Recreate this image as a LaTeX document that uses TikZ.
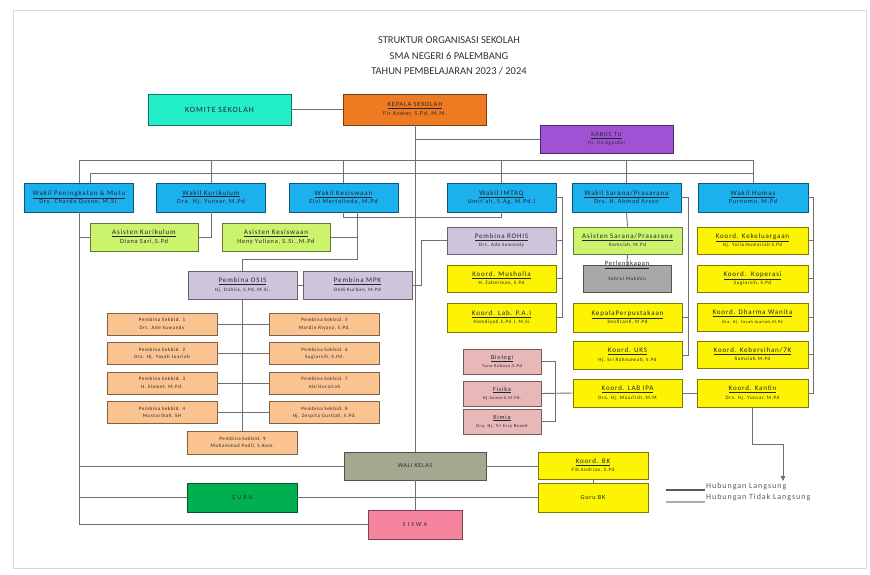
\documentclass[tikz,border=0pt]{standalone}
\usepackage{fontspec}
\setmainfont{Carlito}
\newfontfamily\boxf[LetterSpace=12]{Carlito}
\usetikzlibrary{arrows.meta}
\definecolor{ink}{HTML}{26262F}
\definecolor{cKom}{HTML}{22EEC8}
\definecolor{cKep}{HTML}{EE7B22}
\definecolor{cTU}{HTML}{A052D4}
\definecolor{cWak}{HTML}{1BB0EE}
\definecolor{cAsi}{HTML}{CBF36B}
\definecolor{cLav}{HTML}{CEC5DC}
\definecolor{cYel}{HTML}{FCF400}
\definecolor{cGry}{HTML}{A8A8A8}
\definecolor{cSek}{HTML}{FAC38F}
\definecolor{cPnk}{HTML}{E8B8B8}
\definecolor{cWal}{HTML}{A5A78F}
\definecolor{cGur}{HTML}{00B050}
\definecolor{cSis}{HTML}{F5849E}
\definecolor{cLine}{HTML}{707070}
\newcommand\tbx[2][7]{{\fontsize{#1}{#1}\selectfont\underline{#2}}}
\newcommand\sbx[2][5]{{\fontsize{#1}{#1}\selectfont #2}}
\begin{document}
\begin{tikzpicture}[x=1pt,y=-1pt,
  box/.style={draw=#1!50!black, fill=#1, line width=0.9pt, inner sep=0pt, align=center, text=ink, font=\boxf\fontsize{6}{8.5}\selectfont},
  sz/.style 2 args={minimum width=#1pt, minimum height=#2pt},
  sek/.style={box=cSek, sz={110}{22}, font=\boxf\fontsize{5}{7.5}\selectfont},
  ln/.style={draw=cLine, line width=0.9pt},
  ttl/.style={font=\fontsize{10.5}{12}\selectfont, text=black!80, inner sep=0pt}]
\fill[white] (0,0) rectangle (870,574);
\useasboundingbox (0,0) rectangle (870,574);
\draw[black!15] (13,10) rectangle (866,568);
% title
\node[ttl] (t1) at (449,40) {STRUKTUR ORGANISASI SEKOLAH};
\node[ttl] (t2) at (449,55.5) {SMA NEGERI 6 PALEMBANG};
\node[ttl] (t3) at (449,71) {TAHUN PEMBELAJARAN 2023 / 2024};
% top
\node[box=cKom, sz={143}{31}] (kom) at (219.5,109.5) {\sbx[8]{KOMITE SEKOLAH}};
\node[box=cKep, sz={143}{31}] (kep) at (415,109.5) {\tbx[6.5]{KEPALA SEKOLAH}\\\sbx[6]{Fir Azwar, S.Pd, M.M.}};
\node[box=cTU, sz={133}{28}] (tu) at (606.5,139) {\tbx[6.3]{KABUS TU}\\\sbx{Hj. Ita Agustini}};
% wakil
\node[box=cWak, sz={109}{29}] (wpm) at (79,197.5) {\tbx{Wakil Peningkatan \& Mutu}\\\sbx[6.3]{Drs. Charda Qusno, M.Si.}};
\node[box=cWak, sz={109}{29}] (wkur) at (211,197.5) {\tbx{Wakil Kurikulum}\\\sbx[6.3]{Dra. Hj. Yunsar, M.Pd}};
\node[box=cWak, sz={109}{29}] (wkes) at (343.5,197.5) {\tbx{Wakil Kesiswaan}\\\sbx[6.3]{Elvi Martalinda, M.Pd}};
\node[box=cWak, sz={109}{29}] (wimt) at (501.5,197.5) {\tbx{Wakil IMTAQ}\\\sbx[6.3]{Umit'ah, S.Ag, M.Pd.I}};
\node[box=cWak, sz={109}{29}] (wsar) at (626.5,197.5) {\tbx{Wakil Sarana/Prasarana}\\\sbx[6.3]{Drs. H. Ahmad Arsyo}};
\node[box=cWak, sz={110}{29}] (whum) at (753,197.5) {\tbx{Wakil Humas}\\\sbx[6.3]{Purnomo, M.Pd}};
% asisten
\node[box=cAsi, sz={108}{28}] (akur) at (144,237) {\tbx{Asisten Kurikulum}\\\sbx[6.3]{Diana Sari,S.Pd}};
\node[box=cAsi, sz={108}{28}] (akes) at (276,237) {\tbx{Asisten Kesiswaan}\\\sbx[6.3]{Heny Yuliana, S.Si.,M.Pd}};
% pembina
\node[box=cLav, sz={109}{28}] (osis) at (242.5,285) {\tbx{Pembina OSIS}\\\sbx{Hj. Dahlia, S.Pd, M.Si.}};
\node[box=cLav, sz={109}{28}] (mpk) at (357.5,285) {\tbx{Pembina MPK}\\\sbx{Dedi Kurban, M.Pd}};
% sekbid
\node[sek] (s1) at (162,324) {Pembina Sekbid. 1\\Drs. Ade Suwandy};
\node[sek] (s2) at (162,353.5) {Pembina Sekbid. 2\\Dra. Hj. Yayah Juariah};
\node[sek] (s3) at (162,383) {Pembina Sekbid. 3\\H. Slamet, M.Pd.};
\node[sek] (s4) at (162,412.5) {Pembina Sekbid. 4\\Mustarihah, SH};
\node[sek] (s5) at (324.5,324) {Pembina Sekbid. 5\\Mardin Riyaya, S.Pd.};
\node[sek] (s6) at (324.5,353.5) {Pembina Sekbid. 6\\Sugiarsih, S.Pd.};
\node[sek] (s7) at (324.5,383) {Pembina Sekbid. 7\\Abi Hurairah};
\node[sek] (s8) at (324.5,412.5) {Pembina Sekbid. 8\\Hj. Zespita Gustiati, S.Pd.};
\node[sek, sz={110}{23}] (s9) at (242.5,442.5) {Pembina Sekbid. 9\\Muhammad Padil, S.Kom.};
% imtaq column
\node[box=cLav, sz={109}{27}] (rohis) at (501.5,240.5) {\tbx{Pembina ROHIS}\\\sbx{Drs. Ade Suwandy}};
\node[box=cYel, sz={109}{27}] (mush) at (501.5,278.5) {\tbx{Koord. Musholla}\\\sbx{H. Zaherman, S.Pd}};
\node[box=cYel, sz={109}{29}] (lpai) at (501.5,317.5) {\tbx{Koord. Lab. P.A.I}\\\sbx{Hamdiyati,S.Pd.I, M.Si}};
% sarana column
\node[box=cAsi, sz={109}{27}] (asar) at (627.5,240.5) {\tbx{Asisten Sarana/Prasarana}\\\sbx{Ramsiah, M.Pd}};
\node[box=cGry, sz={88}{27}] (perl) at (627,278.5) {\sbx{Sahrul Mukmin}};
\node[inner sep=0pt, text=ink, font=\boxf] (perlt) at (627,264.5) {\tbx[6.5]{Perlengkapan}};
\node[box=cYel, sz={109}{29}] (kperp) at (627.5,317.5) {\tbx{KepalaPerpustakaan}\\\sbx{Desfiranti, M.Pd}};
\node[box=cYel, sz={109}{28}] (uks) at (627.5,355) {\tbx{Koord. UKS}\\\sbx{Hj. Sri Rahmawati, S.Pd}};
\node[box=cYel, sz={109}{28}] (lipa) at (627.5,393) {\tbx{Koord. LAB IPA}\\\sbx{Dra. Hj. Maurlish, M.M}};
% humas column
\node[box=cYel, sz={111}{27}] (kkel) at (752.5,240.5) {\tbx{Koord. Kekeluargaan}\\\sbx{Hj. Yulia Humairah S.Pd}};
\node[box=cYel, sz={111}{27}] (kkop) at (752.5,278.5) {\tbx{Koord.~~Koperasi}\\\sbx{Sugiarsih, S.Pd}};
\node[box=cYel, sz={111}{28}] (kdw) at (752.5,317) {\tbx{Koord. Dharma Wanita}\\\sbx[4.3]{Dra. Hj. Yayah Juariah,M.Pd}};
\node[box=cYel, sz={111}{27}] (kkeb) at (752.5,354.5) {\tbx{Koord. Kebersihan/7K}\\\sbx{Ramsiah,M.Pd}};
\node[box=cYel, sz={111}{28}] (kkan) at (752.5,393) {\tbx{Koord. Kantin}\\\sbx{Dra. Hj. Yunsar, M.Pd}};
% lab ipa
\node[box=cPnk, sz={78}{25}] (bio) at (502,361.5) {\tbx[6.3]{Biologi}\\\sbx[4.5]{Yanu Rahayu,S.Pd}};
\node[box=cPnk, sz={78}{25}] (fis) at (502,393.5) {\tbx[6.3]{Fisika}\\\sbx[4.5]{Hj.Suwarti,M.Pd.}};
\node[box=cPnk, sz={78}{25}] (kim) at (502,421.5) {\tbx[6.3]{Kimia}\\\sbx[4.5]{Dra. Hj. Tri Essy Reanti}};
% bottom
\node[box=cWal, sz={142}{28}] (wali) at (415,466) {\sbx[6]{WALI KELAS}};
\node[box=cYel, sz={110}{27}] (kbk) at (593,465.5) {\tbx{Koord. BK}\\\sbx{Fib Andrian, S.Pd}};
\node[box=cYel, sz={110}{29}] (gbk) at (593,497.5) {\sbx[6.3]{Guru BK}};
\node[box=cGur, sz={110}{29}] (guru) at (242,497.5) {\sbx[6]{G U R U}};
\node[box=cSis, sz={94}{29}] (siswa) at (415,524.5) {\sbx[6]{S I S W A}};
% connectors
\draw[ln] (kom) -- (kep);
\draw[ln] (kep.south) -- (wali.north);
\draw[ln] (kep.south |- tu.west) -- (tu.west);
\coordinate (busL) at (79,160);
\coordinate (busR) at (753,160);
\draw[ln] (wpm.north) -- (busL) -- (busR) -- (whum.north);
\foreach \n in {wkur,wkes,wimt,wsar} \draw[ln] (\n.north) -- (\n.north |- busL);
\coordinate (bus2L) at (90,173);
\draw[ln] (wpm.north -| bus2L) -- (bus2L) -- (bus2L -| whum.north);
\draw[ln] (wpm.south) -- (wpm.south |- siswa.west) -- (siswa.west);
\draw[ln] (wpm.south |- akur.west) -- (akur.west);
\draw[ln] (wpm.south |- wali.west) -- (wali.west);
\draw[ln] (wpm.south |- guru.west) -- (guru.west);
\draw[ln] (wkur.south) |- (akur.east);
\coordinate (kesA) at (357,212);
\coordinate (kesB) at (357,259);
\draw[ln] (kesA) -- (kesB) -| (osis.north);
\draw[ln] (akes.east) -- (akes.east -| kesA);
\draw[ln] (wkes.south) -- ++(0,5) -| (wimt.south);
\draw[ln] (osis.east) -- (mpk.west);
\draw[ln] (osis.south) -- (s9.north);
\foreach \a/\b in {s1/s5,s2/s6,s3/s7,s4/s8} \draw[ln] (\a.east) -- (\b.west);
\draw[ln] (rohis.west) -- ++(-25,0) |- (mpk.east);
\coordinate (imR) at (562,0);
\draw[ln] (wimt.east) -| (imR |- lpai.east) -- (lpai.east);
\foreach \n in {rohis,mush} \draw[ln] (\n.east) -- (\n.east -| imR);
\coordinate (saR) at (688,0);
\draw[ln] (wsar.east) -| (saR |- uks.east) -- (uks.east);
\draw[ln] (kperp.east) -- (kperp.east -| saR);
\draw[ln] (wsar.south) -- (asar.north);
\draw[ln] (asar.south) -- (perl.north);
\coordinate (huR) at (813,0);
\draw[ln] (whum.east) -| (huR |- kkan.east) -- (kkan.east);
\foreach \n in {kkel,kkop,kdw,kkeb} \draw[ln] (\n.east) -- (\n.east -| huR);
\coordinate (pkR) at (555,0);
\draw[ln] (bio.east) -| (pkR |- kim.east) -- (kim.east);
\draw[ln] (fis.east) -- (lipa.west);
\draw[ln] (lipa.east) -- (kkan.west);
\coordinate (arrT) at (783,481);
\draw[ln, -{Triangle[length=5pt,width=4.5pt]}] (kkan.south) -- ++(0,36.5) -| (arrT);
\draw[ln] (wali.east) -- (wali.east -| kbk.west);
\draw[ln] (kbk.south) -- (gbk.north);
\draw[ln] (guru.east) -- (gbk.west);
\draw[ln] (wali.south) -- (siswa.north);
% legend
\coordinate (lg1a) at (666,490); \coordinate (lg1b) at (705,490);
\coordinate (lg2a) at (666,502); \coordinate (lg2b) at (705,502);
\draw[black!65, line width=1.2pt] (lg1a) -- (lg1b);
\draw[black!32, line width=1.2pt] (lg2a) -- (lg2b);
\node[anchor=west, inner sep=0pt, font=\boxf\fontsize{8}{9}\selectfont, text=black!65] (lgt1) at (706,486) {Hubungan Langsung};
\node[anchor=west, inner sep=0pt, font=\boxf\fontsize{8}{9}\selectfont, text=black!65] (lgt2) at (706,497) {Hubungan Tidak Langsung};
\end{tikzpicture}
\end{document}
